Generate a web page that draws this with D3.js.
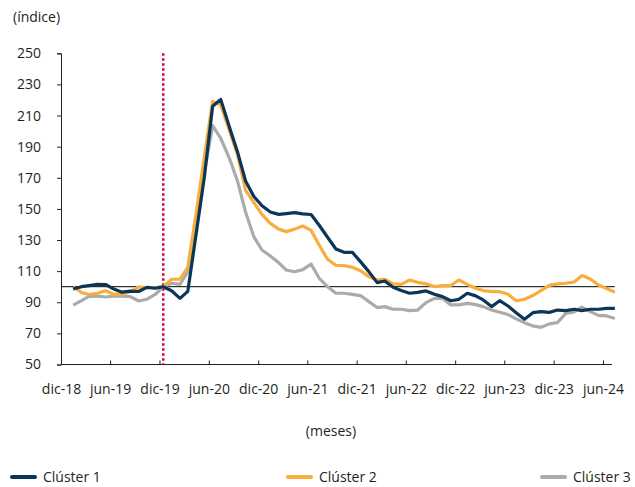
<!DOCTYPE html>
<html><head><meta charset="utf-8">
<script src="https://cdn.jsdelivr.net/npm/d3@7"></script>
<style>body{margin:0;background:#fff} svg text{font-family:'Open Sans',sans-serif;fill:#231f20}</style>
</head><body><svg id="c" width="635" height="487"></svg>
<script>
// Monthly index values, ene-19 .. jul-24 (base dic-19 = 100)
const cluster1 = [98.5,100,100.7,101.5,101.4,98.5,96.5,97.1,96.9,99.6,99,100,
  97.4,92.5,97,134,170,216,220.4,203.3,186.8,168,158,152,
  148,146.5,147,147.6,146.8,146.4,139.5,131.8,124.2,122.1,122.1,116.1,
  109.7,102.6,103.7,99.6,97.5,95.8,96.4,97.3,95.1,93.6,91.0,91.9,
  95.8,94.1,91.5,87.2,91.0,87.6,83.3,79.1,83.3,84.0,83.5,85.0,
  84.6,85.5,84.6,85.5,85.5,86.1,86.1];
const cluster2 = [100,96.3,95,95.8,97.4,95.2,95.2,96.8,99.8,99.5,99.5,100,
  104.8,104.8,112.5,147,183,219,216.8,201,185,162,154,146.5,
  140.7,137,135.4,137,139,136.2,126.8,117.6,113.8,113.5,112.5,110.3,
  106.5,104.3,104.8,101.8,101.5,104.3,102.8,101.8,100.1,100.7,100.9,104.3,
  101.5,99,97.5,96.8,96.8,95.1,91,91.9,94.3,97.5,100.9,101.8,
  102.2,103,107.2,105,101.1,98.8,96.4];
const cluster3 = [88.2,91,93.8,94,93.4,94,94,93.6,90.8,91.9,95,100,
  102.2,101.5,109.6,141,173,203.5,195.4,183,168,148,132,123.6,
  119.7,115.4,110.7,109.6,111,114.6,105.4,100,95.8,95.8,95.1,94.3,
  90.4,86.6,87.2,85.5,85.5,84.6,85.0,89.8,92.5,92.5,88.3,88.3,
  89.3,88.5,87.2,85.0,83.6,82.1,79.3,76.9,74.8,73.9,76.1,76.9,
  82.9,83.8,86.8,84.0,81.6,81.2,79.5];
const seriesNames = ['Clúster 1','Clúster 2','Clúster 3'];
const seriesColors = ['#0b3657','#f9ad3c','#ababab'];
const tickLabels = ['dic-18','jun-19','dic-19','jun-20','dic-20','jun-21','dic-21','jun-22','dic-22','jun-23','dic-23','jun-24'];
const yTicks = [50,70,90,110,130,150,170,190,210,230,250];
const baseIndex = 11; // dic-19
const yTitle = '(índice)';
const xTitle = '(meses)';

const months = d3.range(cluster1.length).map(i => new Date(2019, i, 15));
const tickDates = tickLabels.map((_, k) => new Date(2018, 11 + 6 * k, 1));

const svg = d3.select('#c');
const x = d3.scaleTime().domain([tickDates[0], tickDates[tickDates.length - 1]]).range([61, 603]);
const y = d3.scaleLinear().domain([50, 250]).range([364.5, 53.3]);
const axisEnd = 612;

// y axis
const ya = svg.append('g').attr('transform', 'translate(61,0)')
  .call(d3.axisLeft(y).tickValues(yTicks).tickSize(4).tickPadding(16));
ya.select('.domain').attr('stroke', '#231f20');
ya.selectAll('.tick line').attr('stroke', '#231f20');
ya.selectAll('text').style('font-size', '14px').attr('fill', '#231f20');

// x axis
const xa = svg.append('g').attr('transform', 'translate(0,364.5)')
  .call(d3.axisBottom(x).tickValues(tickDates).tickFormat((d, i) => tickLabels[i]).tickSize(-4).tickSizeOuter(0).tickPadding(20));
xa.select('.domain').attr('d', `M61,0H${axisEnd}`).attr('stroke', '#231f20');
xa.selectAll('.tick line').attr('stroke', '#231f20');
xa.selectAll('text').style('font-size', '14px').attr('fill', '#231f20');

// base 100 line
svg.append('line').attr('x1', 61).attr('x2', x(months[months.length - 1]))
  .attr('y1', y(100)).attr('y2', y(100)).attr('stroke', '#000').attr('stroke-width', 1);

// red dotted line at base month
svg.append('line').attr('x1', x(months[baseIndex])).attr('x2', x(months[baseIndex]))
  .attr('y1', y(250)).attr('y2', y(50)).attr('stroke', '#d4053b')
  .attr('stroke-width', 2.5).attr('stroke-dasharray', '2.5,2.5');

const line = d3.line().x((d, i) => x(months[i])).y(d => y(d));
[cluster3, cluster2, cluster1].forEach((s, k) => {
  const idx = 2 - k;
  svg.append('path').datum(s).attr('d', line).attr('fill', 'none')
    .attr('stroke', seriesColors[idx]).attr('stroke-width', 3.2)
    .attr('stroke-linejoin', 'round');
});

svg.append('text').attr('x', 13).attr('y', 22).style('font-size', '14px').text(yTitle);
svg.append('text').attr('x', 331).attr('y', 436).attr('text-anchor', 'middle').style('font-size', '14px').text(xTitle);

const legX = [12, 288, 542];
seriesNames.forEach((n, i) => {
  const g = svg.append('g').attr('transform', `translate(${legX[i]},477)`);
  g.append('line').attr('x1', 0).attr('x2', 23).attr('y1', 0).attr('y2', 0)
    .attr('stroke', seriesColors[i]).attr('stroke-width', 4).attr('stroke-linecap', 'round');
  g.append('text').attr('x', 31).attr('y', 5).style('font-size', '14px').text(n);
});
</script></body></html>
